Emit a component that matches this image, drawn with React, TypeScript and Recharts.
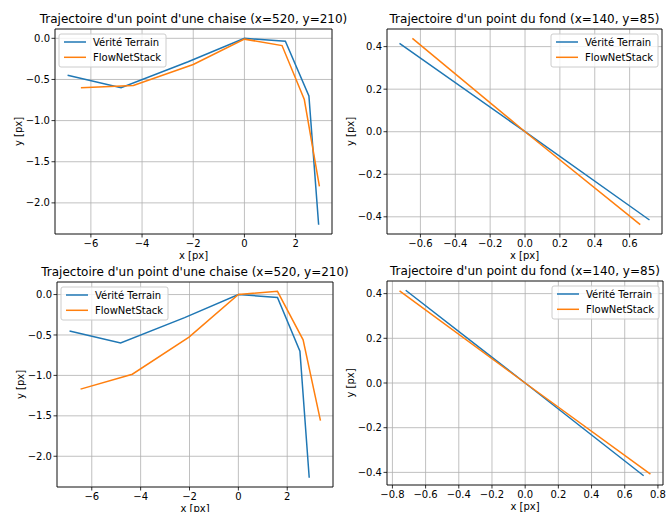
import React from "react";
import {
  LineChart,
  Line,
  XAxis,
  YAxis,
  CartesianGrid,
  ReferenceArea,
} from "recharts";

type Pt = { x: number; y: number };

// ground truth trajectories (same in both rows)
const chairTruth: Pt[] = [
  { x: -6.91, y: -0.45 },
  { x: -4.82, y: -0.6 },
  { x: -2.2, y: -0.285 },
  { x: 0, y: 0 },
  { x: 1.6, y: -0.035 },
  { x: 2.52, y: -0.7 },
  { x: 2.9, y: -2.265 },
];
const chairFlowTop: Pt[] = [
  { x: -6.39, y: -0.6 },
  { x: -4.34, y: -0.572 },
  { x: -2.0, y: -0.318 },
  { x: 0, y: -0.01 },
  { x: 1.47, y: -0.088 },
  { x: 2.34, y: -0.744 },
  { x: 2.93, y: -1.8 },
];
const chairFlowBottom: Pt[] = [
  { x: -6.46, y: -1.17 },
  { x: -4.34, y: -0.985 },
  { x: -2.02, y: -0.527 },
  { x: 0, y: 0 },
  { x: 1.6, y: 0.04 },
  { x: 2.65, y: -0.56 },
  { x: 3.36, y: -1.56 },
];
const bgTruth: Pt[] = [
  { x: -0.72, y: 0.415 },
  { x: 0, y: 0 },
  { x: 0.714, y: -0.415 },
];
const bgFlowTop: Pt[] = [
  { x: -0.646, y: 0.439 },
  { x: 0, y: 0 },
  { x: 0.661, y: -0.437 },
];
const bgFlowBottom: Pt[] = [
  { x: -0.757, y: 0.412 },
  { x: 0, y: 0 },
  { x: 0.755, y: -0.408 },
];

const chairXTicks = [-6, -4, -2, 0, 2];
const chairYTicks = [-2, -1.5, -1, -0.5, 0];
const bgXTicksTop = [-0.6, -0.4, -0.2, 0, 0.2, 0.4, 0.6];
const bgXTicksBottom = [-0.8, -0.6, -0.4, -0.2, 0, 0.2, 0.4, 0.6, 0.8];
const bgYTicks = [-0.4, -0.2, 0, 0.2, 0.4];

const seriesNames = ["Vérité Terrain", "FlowNetStack"];
const chairTitle = "Trajectoire d'un point d'une chaise (x=520, y=210)";
const bgTitle = "Trajectoire d'un point du fond (x=140, y=85)";

const BLUE = "#1f77b4";
const ORANGE = "#ff7f0e";
const FONT = "DejaVu Sans";

// matplotlib-like autoscale: 5% margin on each side
function autoDomain(series: Pt[][], key: "x" | "y"): [number, number] {
  const v = series.flat().map((p) => p[key]);
  const lo = Math.min(...v);
  const hi = Math.max(...v);
  const m = (hi - lo) * 0.05;
  return [lo - m, hi + m];
}

const fmt = (dec: number) => (d: number) => {
  const s = Math.abs(d) < 1e-9 ? (0).toFixed(dec) : d.toFixed(dec);
  return s.replace("-", "\u2212");
};

type Box = { l: number; t: number; w: number; h: number };

function Panel({
  box,
  truth,
  flow,
  xTicks,
  yTicks,
  xDec,
  yDec,
}: {
  box: Box;
  truth: Pt[];
  flow: Pt[];
  xTicks: number[];
  yTicks: number[];
  xDec: number;
  yDec: number;
}) {
  const xd = autoDomain([truth, flow], "x");
  const yd = autoDomain([truth, flow], "y");
  const tickStyle = { fontSize: 10, fill: "#000", fontFamily: FONT };
  return (
    <div style={{ position: "absolute", left: box.l - 50, top: box.t - 5 }}>
      <LineChart
        width={box.w + 55}
        height={box.h + 35}
        margin={{ top: 5, right: 5, bottom: 0, left: 0 }}
      >
        <CartesianGrid stroke="#b0b0b0" strokeWidth={0.8} />
        <XAxis
          type="number"
          dataKey="x"
          domain={xd}
          ticks={xTicks}
          interval={0}
          allowDataOverflow
          height={30}
          tickSize={3.5}
          tickMargin={2.5}
          axisLine={false}
          tickLine={{ stroke: "#000", strokeWidth: 0.8 }}
          tick={tickStyle}
          tickFormatter={fmt(xDec)}
          label={{
            value: "x [px]",
            position: "insideBottom",
            offset: 5,
            style: { fontSize: 10, fill: "#000", fontFamily: FONT },
          }}
        />
        <YAxis
          type="number"
          dataKey="y"
          domain={yd}
          ticks={yTicks}
          interval={0}
          allowDataOverflow
          width={50}
          tickSize={3.5}
          tickMargin={1.5}
          axisLine={false}
          tickLine={{ stroke: "#000", strokeWidth: 0.8 }}
          tick={tickStyle}
          tickFormatter={fmt(yDec)}
          label={{
            value: "y [px]",
            angle: -90,
            position: "insideLeft",
            offset: 13,
            style: {
              fontSize: 10,
              fill: "#000",
              fontFamily: FONT,
              textAnchor: "middle",
            },
          }}
        />
        <ReferenceArea
          x1={xd[0]}
          x2={xd[1]}
          y1={yd[0]}
          y2={yd[1]}
          fill="none"
          stroke="#000"
          strokeWidth={0.8}
          ifOverflow="visible"
        />
        <Line
          data={truth}
          dataKey="y"
          type="linear"
          stroke={BLUE}
          strokeWidth={1.5}
          dot={false}
          isAnimationActive={false}
        />
        <Line
          data={flow}
          dataKey="y"
          type="linear"
          stroke={ORANGE}
          strokeWidth={1.5}
          dot={false}
          isAnimationActive={false}
        />
      </LineChart>
    </div>
  );
}

function Decor({ box, title, right }: { box: Box; title: string; right: boolean }) {
  const lw = 107;
  const lh = 33;
  const lx = right ? box.l + box.w - 4 - lw : box.l + 4;
  const ly = box.t + 5;
  return (
    <g fontFamily={FONT}>
      <text
        x={box.l + box.w / 2}
        y={box.t - 6}
        textAnchor="middle"
        fontSize={12}
        fill="#000"
      >
        {title}
      </text>
      <rect
        x={lx}
        y={ly}
        width={lw}
        height={lh}
        rx={2}
        fill="#fff"
        fillOpacity={0.8}
        stroke="#cccccc"
        strokeWidth={1}
      />
      {seriesNames.map((name, i) => (
        <g key={name}>
          <line
            x1={lx + 5}
            x2={lx + 27}
            y1={ly + 8 + i * 15.3}
            y2={ly + 8 + i * 15.3}
            stroke={i === 0 ? BLUE : ORANGE}
            strokeWidth={1.5}
          />
          <text x={lx + 34} y={ly + 12 + i * 15.3} fontSize={10} fill="#000">
            {name}
          </text>
        </g>
      ))}
    </g>
  );
}

const boxTL: Box = { l: 55, t: 29, w: 277, h: 205 };
const boxTR: Box = { l: 387, t: 29, w: 275, h: 205 };
const boxBL: Box = { l: 57, t: 282, w: 276, h: 205 };
const boxBR: Box = { l: 387, t: 281, w: 276, h: 204 };

export default function App() {
  return (
    <div
      style={{
        position: "absolute",
        left: 0,
        top: 0,
        width: 666,
        height: 512,
        overflow: "hidden",
        background: "#fff",
        fontFamily: FONT,
      }}
    >
      <Panel box={boxTL} truth={chairTruth} flow={chairFlowTop} xTicks={chairXTicks} yTicks={chairYTicks} xDec={0} yDec={1} />
      <Panel box={boxTR} truth={bgTruth} flow={bgFlowTop} xTicks={bgXTicksTop} yTicks={bgYTicks} xDec={1} yDec={1} />
      <Panel box={boxBL} truth={chairTruth} flow={chairFlowBottom} xTicks={chairXTicks} yTicks={chairYTicks} xDec={0} yDec={1} />
      <Panel box={boxBR} truth={bgTruth} flow={bgFlowBottom} xTicks={bgXTicksBottom} yTicks={bgYTicks} xDec={1} yDec={1} />
      <svg
        width={666}
        height={512}
        style={{ position: "absolute", left: 0, top: 0, pointerEvents: "none" }}
      >
        <Decor box={boxTL} title={chairTitle} right={false} />
        <Decor box={boxTR} title={bgTitle} right={true} />
        <Decor box={boxBL} title={chairTitle} right={false} />
        <Decor box={boxBR} title={bgTitle} right={true} />
      </svg>
    </div>
  );
}
